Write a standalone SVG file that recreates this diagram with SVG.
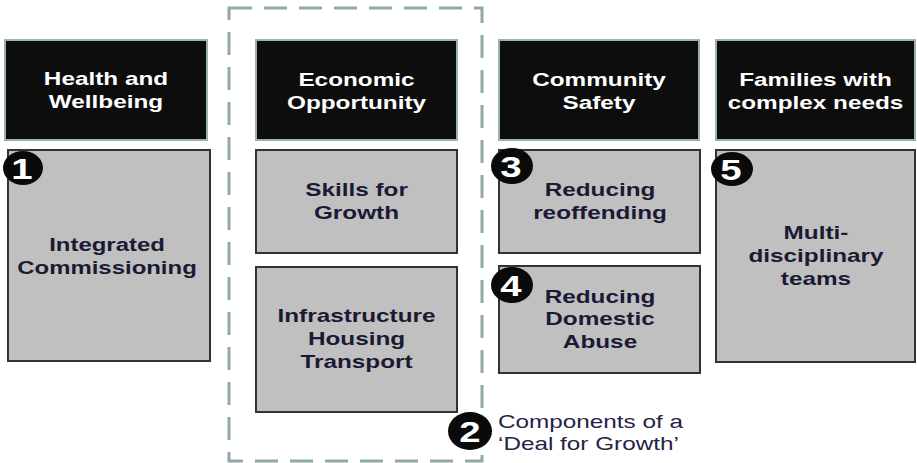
<svg xmlns="http://www.w3.org/2000/svg" width="917" height="463" viewBox="0 0 917 463">
  <style>
    .head { fill: #0d0d0d; stroke: #9ab0b3; stroke-width: 2; }
    .body { fill: #c0c0c0; stroke: #333333; stroke-width: 2; }
    .frame { fill: none; stroke: #8fa9aa; stroke-width: 3; stroke-dasharray: 23 12; }
    .ht { font-family: "Liberation Sans", Arial, sans-serif; font-weight: bold; font-size: 19px; fill: #ffffff; text-anchor: middle; }
    .bt { font-family: "Liberation Sans", Arial, sans-serif; font-weight: bold; font-size: 19px; fill: #1a1a34; text-anchor: middle; }
    .badge { fill: #0a0a0a; }
    .num { font-family: "Liberation Sans", Arial, sans-serif; font-weight: bold; font-size: 30px; fill: #ffffff; text-anchor: middle; }
    .note { font-family: "Liberation Sans", Arial, sans-serif; font-size: 18px; fill: #262248; }
  </style>

  <!-- dashed frame around the economic column -->
  <rect class="frame" x="229" y="8" width="253" height="453"/>

  <!-- column headers -->
  <g id="health-head">
    <rect class="head" x="5" y="40" width="202" height="100"/>
    <text class="ht" transform="translate(106,85) scale(1.28,1)"><tspan x="0" y="0">Health and</tspan><tspan x="0" y="23">Wellbeing</tspan></text>
  </g>
  <g id="economic-head">
    <rect class="head" x="256" y="40" width="201" height="100"/>
    <text class="ht" transform="translate(356.5,86) scale(1.28,1)"><tspan x="0" y="0">Economic</tspan><tspan x="0" y="23">Opportunity</tspan></text>
  </g>
  <g id="community-head">
    <rect class="head" x="499" y="40" width="200" height="100"/>
    <text class="ht" transform="translate(599,86) scale(1.28,1)"><tspan x="0" y="0">Community</tspan><tspan x="0" y="23">Safety</tspan></text>
  </g>
  <g id="families-head">
    <rect class="head" x="716" y="40" width="199" height="100"/>
    <text class="ht" transform="translate(815.5,86) scale(1.28,1)"><tspan x="0" y="0">Families with</tspan><tspan x="0" y="23">complex needs</tspan></text>
  </g>

  <!-- content boxes -->
  <g id="integrated">
    <rect class="body" x="8" y="150" width="202" height="211"/>
    <text class="bt" transform="translate(107,251) scale(1.26,1)"><tspan x="0" y="0">Integrated</tspan><tspan x="0" y="23">Commissioning</tspan></text>
  </g>
  <g id="skills">
    <rect class="body" x="256" y="150" width="201" height="103"/>
    <text class="bt" transform="translate(356.5,196) scale(1.28,1)"><tspan x="0" y="0">Skills for</tspan><tspan x="0" y="23">Growth</tspan></text>
  </g>
  <g id="infrastructure">
    <rect class="body" x="256" y="267" width="201" height="145"/>
    <text class="bt" transform="translate(356.5,322) scale(1.28,1)"><tspan x="0" y="0">Infrastructure</tspan><tspan x="0" y="23">Housing</tspan><tspan x="0" y="46">Transport</tspan></text>
  </g>
  <g id="reoffending">
    <rect class="body" x="499" y="150" width="201" height="103"/>
    <text class="bt" transform="translate(600,196) scale(1.28,1)"><tspan x="0" y="0">Reducing</tspan><tspan x="0" y="23">reoffending</tspan></text>
  </g>
  <g id="domestic-abuse">
    <rect class="body" x="499" y="266" width="201" height="107"/>
    <text class="bt" transform="translate(600,303) scale(1.28,1)"><tspan x="0" y="0">Reducing</tspan><tspan x="0" y="22.5">Domestic</tspan><tspan x="0" y="45">Abuse</tspan></text>
  </g>
  <g id="multi-disciplinary">
    <rect class="body" x="716" y="150" width="199" height="212"/>
    <text class="bt" transform="translate(816,239) scale(1.28,1)"><tspan x="0" y="0">Multi-</tspan><tspan x="0" y="23">disciplinary</tspan><tspan x="0" y="46">teams</tspan></text>
  </g>

  <!-- numbered badges -->
  <g id="badge-1">
    <ellipse class="badge" cx="23" cy="168" rx="20" ry="17"/>
    <text class="num" transform="translate(22,179) scale(1.28,1)">1</text>
  </g>
  <g id="badge-3">
    <ellipse class="badge" cx="512" cy="166" rx="21" ry="18"/>
    <text class="num" transform="translate(511,177) scale(1.28,1)">3</text>
  </g>
  <g id="badge-4">
    <ellipse class="badge" cx="512" cy="285" rx="21" ry="18"/>
    <text class="num" transform="translate(511,296) scale(1.28,1)">4</text>
  </g>
  <g id="badge-5">
    <ellipse class="badge" cx="732" cy="169" rx="21" ry="17"/>
    <text class="num" transform="translate(731,180) scale(1.28,1)">5</text>
  </g>
  <g id="badge-2">
    <ellipse class="badge" cx="470" cy="431" rx="22" ry="19"/>
    <text class="num" transform="translate(470,442) scale(1.28,1)">2</text>
  </g>

  <!-- frame caption -->
  <g id="caption">
    <text class="note" transform="translate(498,428) scale(1.35,1)"><tspan x="0" y="0">Components of a</tspan><tspan x="0" y="22">‘Deal for Growth’</tspan></text>
  </g>

  <g id="connectors"/>
</svg>
